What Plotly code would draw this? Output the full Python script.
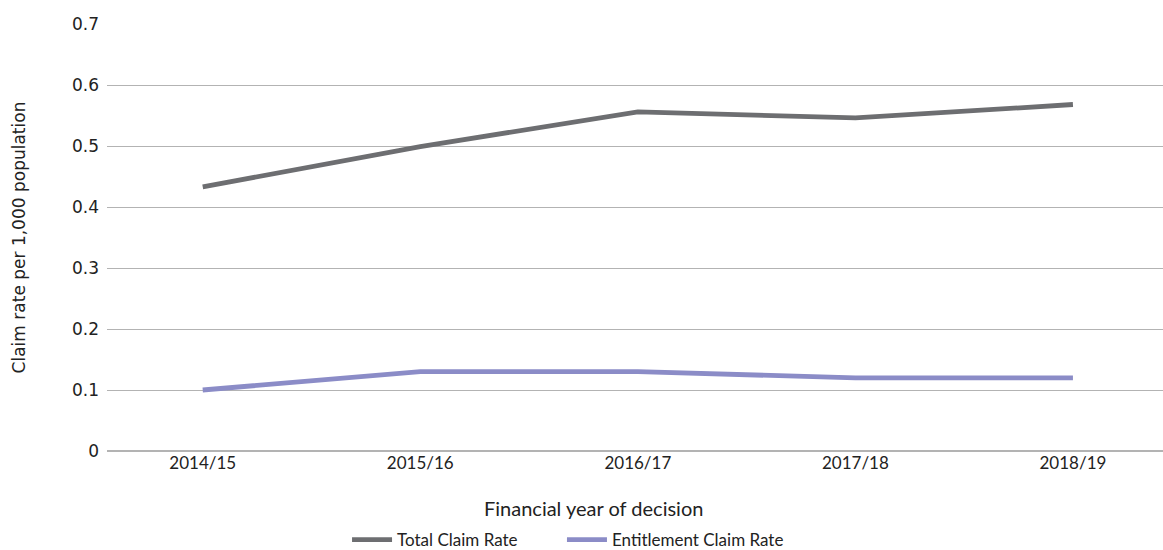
import plotly.graph_objects as go

# Financial years and claim rates per 1,000 population
years = ["2014/15", "2015/16", "2016/17", "2017/18", "2018/19"]
total_claim_rate = [0.433, 0.499, 0.556, 0.546, 0.568]
entitlement_claim_rate = [0.10, 0.13, 0.13, 0.12, 0.12]
y_ticks = [0, 0.1, 0.2, 0.3, 0.4, 0.5, 0.6, 0.7]
y_tick_text = ["0", "0.1", "0.2", "0.3", "0.4", "0.5", "0.6", "0.7"]

fig = go.Figure()
fig.add_trace(go.Scatter(
    x=years, y=total_claim_rate, mode="lines", name="Total Claim Rate",
    line=dict(color="#6d6e71", width=4.8), legend="legend",
))
fig.add_trace(go.Scatter(
    x=years, y=entitlement_claim_rate, mode="lines", name="Entitlement Claim Rate",
    line=dict(color="#8b8cc7", width=4.8), legend="legend2",
))

legend_style = dict(
    orientation="h", xref="container", yref="container",
    xanchor="left", y=0.018, yanchor="middle",
    font=dict(family="Lato", size=17, color="#222222"),
    itemwidth=40, bgcolor="rgba(0,0,0,0)",
)

fig.update_layout(
    width=1163, height=550,
    margin=dict(l=107, r=0, t=24, b=99),
    paper_bgcolor="white", plot_bgcolor="white",
    font=dict(family="Lato", size=15, color="#222222"),
    showlegend=True,
    legend=dict(x=0.2984, **legend_style),
    legend2=dict(x=0.4832, **legend_style),
    xaxis=dict(
        type="category", range=[-0.44, 4.414],
        showgrid=False, showline=False, zeroline=False,
        ticks="", tickfont=dict(family="Lato", size=17, color="#222222"),
    ),
    yaxis=dict(
        range=[0, 0.7], tickvals=y_ticks, ticktext=y_tick_text,
        showgrid=True, gridcolor="#b3b3b3", gridwidth=1,
        zeroline=True, zerolinecolor="#b3b3b3", zerolinewidth=1.5,
        showline=False, ticks="", ticklabelstandoff=7,
        tickfont=dict(family="DejaVu Sans", size=17, color="#222222"),
        title=dict(text="Claim rate per 1,000 population",
                   font=dict(family="DejaVu Sans", size=17, color="#222222"),
                   standoff=42),
    ),
    annotations=[dict(
        text="Financial year of decision", xref="paper", yref="paper",
        x=0.461, y=-0.133, xanchor="center", yanchor="middle", showarrow=False,
        font=dict(family="Lato", size=20, color="#222222"),
    )],
)

fig.write_html("out.html")
